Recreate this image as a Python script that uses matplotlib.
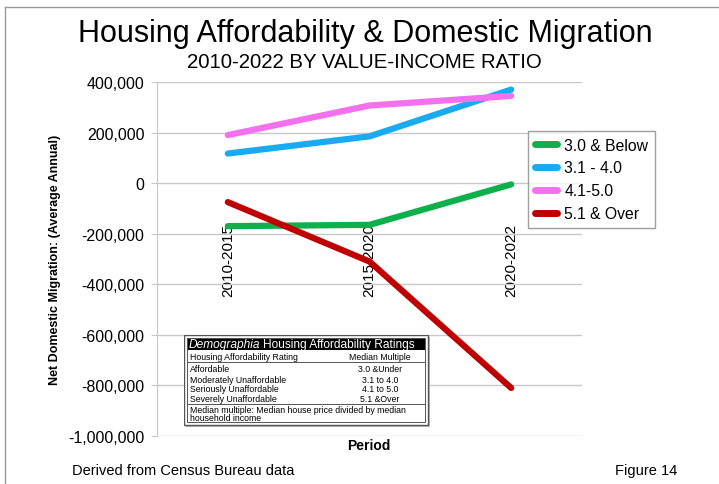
import matplotlib
matplotlib.use("Agg")
import matplotlib.pyplot as plt
from matplotlib.patches import Rectangle
from matplotlib.lines import Line2D

periods = ["2010-2015", "2015-2020", "2020-2022"]
series_names = ["3.0 & Below", "3.1 - 4.0", "4.1-5.0", "5.1 & Over"]
vals_30_below = [-170000, -165000, -5000]
vals_31_40 = [117000, 185000, 370000]
vals_41_50 = [190000, 307000, 345000]
vals_51_over = [-75000, -310000, -810000]
colors = ["#0fb04b", "#1aaaf0", "#f570ee", "#c00000"]
yticks = [400000, 200000, 0, -200000, -400000, -600000, -800000, -1000000]

rating_rows = [("Affordable", "3.0 &Under"),
               ("Moderately Unaffordable", "3.1 to 4.0"),
               ("Seriously Unaffordable", "4.1 to 5.0"),
               ("Severely Unaffordable", "5.1 &Over")]

plt.rcParams['font.family'] = ['Liberation Sans', 'DejaVu Sans']

W, H = 719, 485
fig = plt.figure(figsize=(W/100, H/100), dpi=100)

# figure frame lines (left & top)
fig.add_artist(Line2D([5/W, 5/W], [0, 1-8/H], color="#999999", lw=1))
fig.add_artist(Line2D([5/W, 1], [1-8/H, 1-8/H], color="#999999", lw=1))

ax = fig.add_axes([157/W, 1-437/H, (582-157)/W, (437-83)/H])
x = list(range(len(periods)))
all_vals = [vals_30_below, vals_31_40, vals_41_50, vals_51_over]
for name, v, c in zip(series_names, all_vals, colors):
    ax.plot(x, v, color=c, lw=4.5, solid_capstyle='round', label=name, zorder=3)

ax.set_xlim(-0.5, len(periods)-0.5)
ax.set_ylim(-1000000, 400000)
ax.set_yticks(yticks)
ax.set_yticklabels([f"{t:,}" for t in yticks], fontsize=11.5)
ax.yaxis.grid(True, color="#c8c8c8", lw=1)
ax.set_axisbelow(True)
for s in ["top", "right", "bottom"]:
    ax.spines[s].set_visible(False)
ax.spines["left"].set_color("#c8c8c8")
ax.tick_params(axis='y', length=4, color="#c8c8c8", pad=5)
ax.spines["bottom"].set_position(("data", 0))
ax.set_xticks(x)
ax.set_xticklabels(periods, rotation=90, fontsize=11)
ax.tick_params(axis='x', length=0, pad=29)

ax.set_ylabel("Net Domestic Migration: (Average Annual)", fontsize=9,
              fontweight='bold')
ax.yaxis.set_label_coords(-0.225, 0.5)
fig.text(369/W, 1-446/H, "Period", fontsize=10, fontweight='bold',
         ha='center', va='center')

fig.text(365/W, 1-34/H, "Housing Affordability & Domestic Migration",
         fontsize=22, ha='center', va='center')
fig.text(364/W, 1-62/H, "2010-2022 BY VALUE-INCOME RATIO", fontsize=14.7,
         ha='center', va='center')
fig.text(72/W, 1-471/H, "Derived from Census Bureau data", fontsize=10.5,
         ha='left', va='center')
fig.text(615/W, 1-471/H, "Figure 14", fontsize=10.5, ha='left', va='center')

leg = ax.legend(loc='upper left', bbox_to_anchor=(528/W, 1-132/H),
                bbox_transform=fig.transFigure, fontsize=11.3, frameon=True,
                fancybox=False, edgecolor="#888888", handlelength=1.45,
                borderpad=0.42, labelspacing=0.5, handletextpad=0.45,
                borderaxespad=0)
for line in leg.get_lines():
    line.set_linewidth(5)
leg.get_frame().set_linewidth(1)

# ratings table inset
bx0, by0, bw, bh = 184, 336, 246, 92
tax = fig.add_axes([bx0/W, 1-(by0+bh)/H, bw/W, bh/H])
tax.set_xlim(0, bw)
tax.set_ylim(bh, 0)
tax.axis('off')
tax.add_patch(Rectangle((2, 2), bw-2, bh-2, fc="#bbbbbb", ec="none", zorder=0))
tax.add_patch(Rectangle((0, 0), bw-2, bh-2, fc="white", ec="#555555", lw=1, zorder=1))
tax.add_patch(Rectangle((3, 3), bw-8, 12, fc="black", ec="none", zorder=2))
t1 = tax.text(5, 9.5, "Demographia", color="white", fontsize=8.6, style='italic',
              va='center', ha='left', zorder=3)
fig.canvas.draw()
bb = t1.get_window_extent().transformed(tax.transData.inverted())
tax.text(bb.x1 + 2.5, 9.5, "Housing Affordability Ratings", color="white",
         fontsize=8.6, va='center', ha='left', zorder=3)
tax.text(6, 22, "Housing Affordability Rating", fontsize=6.3, va='center', zorder=3)
tax.text(196, 22, "Median Multiple", fontsize=6.3, va='center', ha='center', zorder=3)
tax.plot([3, bw-5], [27, 27], color="#555555", lw=0.7, zorder=3)
row_y = [34, 45, 54, 64]
for yy, (a, b) in zip(row_y, rating_rows):
    tax.text(6, yy, a, fontsize=6.3, va='center', zorder=3)
    tax.text(196, yy, b, fontsize=6.3, va='center', ha='center', zorder=3)
tax.plot([3, bw-5], [68.5, 68.5], color="#555555", lw=0.7, zorder=3)
tax.text(6, 74.5, "Median multiple: Median house price divided by median",
         fontsize=6.3, va='center', zorder=3)
tax.text(6, 83, "household income", fontsize=6.3, va='center', zorder=3)
tax.add_patch(Rectangle((3, 3), bw-8, bh-8, fc="none", ec="#555555", lw=0.7, zorder=3))

fig.savefig("out.png", dpi=100)
